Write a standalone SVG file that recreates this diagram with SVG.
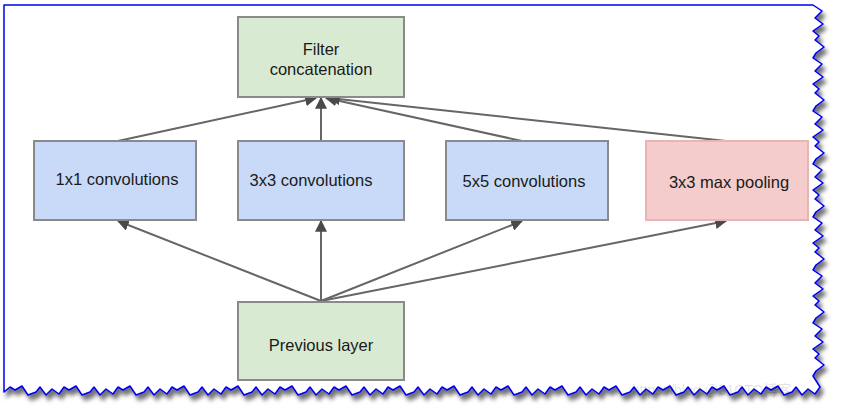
<svg xmlns="http://www.w3.org/2000/svg" width="842" height="409" viewBox="0 0 842 409">
<defs>
<filter id="sh" x="-5%" y="-5%" width="115%" height="120%">
<feDropShadow dx="3" dy="5" stdDeviation="2" flood-color="#000" flood-opacity="0.55"/>
</filter>
<marker id="ah" viewBox="0 0 10 10" refX="9" refY="5" markerWidth="12" markerHeight="12" markerUnits="userSpaceOnUse" orient="auto">
<path d="M0,0 L10,5 L0,10 Z" fill="#4a4a4a"/>
</marker>
<style>
.box{stroke-width:2}
.g{fill:#d9ead3;stroke:#8a8a8a}
.b{fill:#c9daf8;stroke:#8a8a8a}
.r{fill:#f4cccc;stroke:#e8b4b4}
.t{font-family:"Liberation Sans",Arial,sans-serif;font-size:16.5px;fill:#1a1a1a;text-anchor:middle}
.c{stroke:#666;stroke-width:2;fill:none;marker-end:url(#ah)}
</style>
</defs>
<rect width="842" height="409" fill="#fff"/>
<path filter="url(#sh)" fill="#fff" stroke="#0000ee" stroke-width="1.5" stroke-linejoin="round"
d="M4,5 H813
l9,6 l-7,7 l8,6 l-10,7 l6,5 l-4,4 l9,7 l-8,6 l-3,5
l9,6 l-7,7 l8,6 l-10,7 l6,5 l-4,4 l9,7 l-8,6 l-3,5
l9,6 l-7,7 l8,6 l-10,7 l6,5 l-4,4 l9,7 l-8,6 l-3,5
l9,6 l-7,7 l8,6 l-10,7 l6,5 l-4,4 l9,7 l-8,6 l-3,5
l9,6 l-7,7 l8,6 l-10,7 l6,5 l-4,4 l9,7 l-8,6 l-3,5
l9,6 l-7,7 l8,6 l-10,7 l6,5 l-4,4 l9,7 l-8,6 l-3,5
l9,6 l-7,7 l8,6 l-10,7 l6,5 l-4,4 l9,7 l-8,6 l-3,5
l7,11
l-5,7 l-7,-5 l-6,6 l-6,-8 l-4,5 l-8,3 l-6,-9 l-7,4 l-5,-3
l-5,7 l-7,-5 l-6,6 l-6,-8 l-4,5 l-8,3 l-6,-9 l-7,4 l-5,-3
l-5,7 l-7,-5 l-6,6 l-6,-8 l-4,5 l-8,3 l-6,-9 l-7,4 l-5,-3
l-5,7 l-7,-5 l-6,6 l-6,-8 l-4,5 l-8,3 l-6,-9 l-7,4 l-5,-3
l-5,7 l-7,-5 l-6,6 l-6,-8 l-4,5 l-8,3 l-6,-9 l-7,4 l-5,-3
l-5,7 l-7,-5 l-6,6 l-6,-8 l-4,5 l-8,3 l-6,-9 l-7,4 l-5,-3
l-5,7 l-7,-5 l-6,6 l-6,-8 l-4,5 l-8,3 l-6,-9 l-7,4 l-5,-3
l-5,7 l-7,-5 l-6,6 l-6,-8 l-4,5 l-8,3 l-6,-9 l-7,4 l-5,-3
l-5,7 l-7,-5 l-6,6 l-6,-8 l-4,5 l-8,3 l-6,-9 l-7,4 l-5,-3
l-5,7 l-7,-5 l-6,6 l-6,-8 l-4,5 l-8,3 l-6,-9 l-7,4 l-5,-3
l-5,7 l-7,-5 l-6,6 l-6,-8 l-4,5 l-8,3 l-6,-9 l-7,4 l-5,-3
l-5,7 l-7,-5 l-6,6 l-6,-8 l-4,5 l-8,3 l-6,-9 l-7,4 l-5,-3
l-5,7 l-7,-5 l-6,6 l-6,-8 l-4,5 l-8,3 l-6,-9 l-7,4 l-5,-3
l-5,7 l-7,-5 l-6,6 l-6,-8 l-4,5 l-8,3 l-6,-9 l-7,4 l-5,-3
l-5,7 l-7,-5 l-6,6 l-6,-8 l-4,5 l-8,3 l-6,-9 l-7,4 l-5,-3
L4,392 Z"/>
<g id="connectors">
<line class="c" x1="118" y1="141" x2="316" y2="98"/>
<line class="c" x1="321" y1="141" x2="321" y2="98"/>
<line class="c" x1="522" y1="141" x2="326" y2="98"/>
<line class="c" x1="726" y1="141" x2="329" y2="98"/>
<line class="c" x1="321" y1="301" x2="118" y2="221"/>
<line class="c" x1="321" y1="301" x2="321" y2="221"/>
<line class="c" x1="321" y1="301" x2="522" y2="221"/>
<line class="c" x1="321" y1="301" x2="726" y2="221"/>
</g>
<g id="filter-concat">
<rect class="box g" x="238" y="17" width="166" height="80"/>
<text class="t" x="321" y="55">Filter</text>
<text class="t" x="321" y="75">concatenation</text>
</g>
<g id="conv1x1">
<rect class="box b" x="34" y="141" width="162" height="79"/>
<text class="t" x="117" y="185">1x1 convolutions</text>
</g>
<g id="conv3x3">
<rect class="box b" x="238" y="141" width="166" height="79"/>
<text class="t" x="311" y="186">3x3 convolutions</text>
</g>
<g id="conv5x5">
<rect class="box b" x="446" y="141" width="162" height="79"/>
<text class="t" x="524" y="187">5x5 convolutions</text>
</g>
<g id="maxpool">
<rect class="box r" x="646" y="141" width="162" height="79"/>
<text class="t" x="729" y="188">3x3 max pooling</text>
</g>
<g id="previous-layer">
<rect class="box g" x="238" y="302" width="166" height="78"/>
<text class="t" x="321" y="351">Previous layer</text>
</g>
<text x="632" y="395" font-family="'Liberation Sans','Noto Sans CJK SC',sans-serif" font-size="14" fill="#000" fill-opacity="0.12">https://blog @51CTO博客</text>
</svg>
